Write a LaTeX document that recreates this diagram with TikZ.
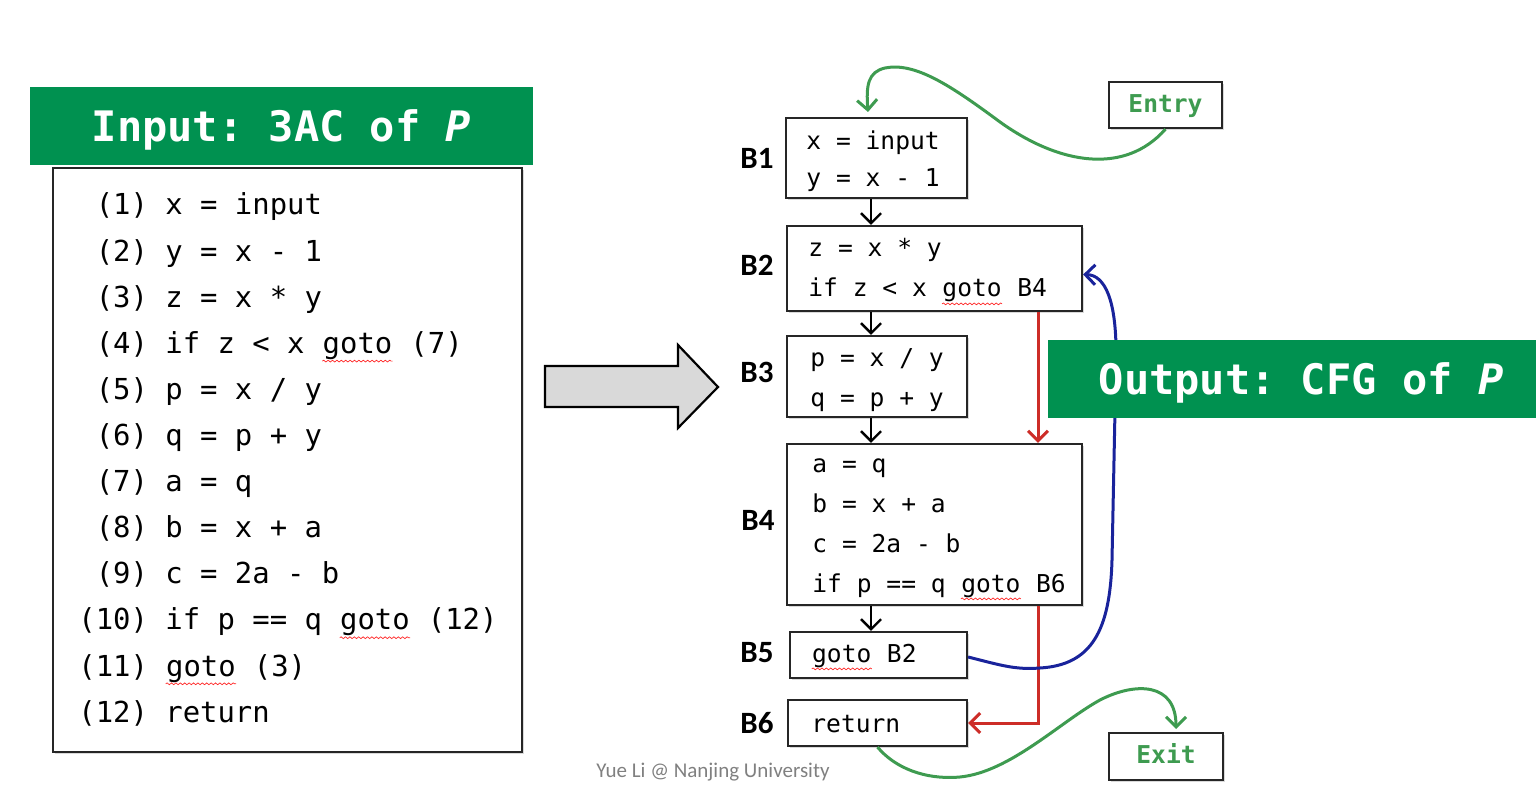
\documentclass[tikz,border=0pt]{standalone}
\usepackage{fontspec}
\setmonofont{DejaVu Sans Mono}
\newfontfamily\lblfont{Carlito}
\usetikzlibrary{arrows.meta,decorations.pathmorphing,shadows}
\definecolor{bannergreen}{RGB}{0,145,80}
\definecolor{lgreen}{RGB}{62,155,80}
\definecolor{cred}{RGB}{205,45,40}
\definecolor{cblue}{RGB}{25,35,155}
\definecolor{arrowgray}{RGB}{217,217,217}
\tikzset{
  squig/.style={draw=red!85, line width=0.35pt, decorate,
    decoration={snake, amplitude=0.45pt, segment length=2.2pt}},
  blk/.style={draw=black!85, line width=1.1pt, fill=white, inner sep=0pt,
    drop shadow={shadow xshift=1.2pt, shadow yshift=-1.2pt, opacity=0.3}},
  banner/.style={fill=bannergreen, inner sep=0pt},
  bannertext/.style={text=white, font=\ttfamily\bfseries\fontsize{21}{25}\selectfont,
    inner sep=0pt, text height=0.73em, text depth=0pt},
  lcode/.style={anchor=base west, inner sep=0pt, font=\ttfamily\fontsize{14.45}{17}\selectfont},
  ccode/.style={anchor=base west, inner sep=0pt, font=\ttfamily\fontsize{12.3}{15}\selectfont},
  blabel/.style={inner sep=0pt, font=\lblfont\bfseries\fontsize{15.5}{18}\selectfont},
  tbox/.style={blk, text=lgreen, font=\ttfamily\bfseries\fontsize{12.3}{15}\selectfont,
    text height=0.73em, text depth=0pt},
  barb/.style={-{Straight Barb[length=5pt,width=10pt]}},
  flow/.style={barb, draw=black, line width=1.2pt},
  jump/.style={barb, draw=cred, line width=1.5pt},
  back/.style={barb, draw=cblue, line width=1.5pt},
  io/.style={barb, draw=lgreen, line width=1.5pt},
}
\newcommand\sq[1]{\tikz[baseline=(w.base)]{\node[inner sep=0pt,anchor=base,draw=none,fill=none,rectangle](w){#1};\draw[squig]([yshift=-0.6pt]w.south west)--([yshift=-0.6pt]w.south east);}}
\begin{document}
\begin{tikzpicture}[x=0.5pt,y=-0.5pt]
\useasboundingbox (0,0) rectangle (1536,807);

% ---------- Input side ----------
\node[banner, minimum width=251.5pt, minimum height=39pt] (inb) at (281.5,126) {};
\node[bannertext] (inbt) at (281.5,134) {Input: 3AC of \textit{P}};
\node[blk, minimum width=234.5pt, minimum height=292pt] (code) at (287.5,460) {};

\node[lcode] (l1) at (78,215)   {\hphantom{0}(1) x = input};
\node[lcode] (l2) at (78,261.1) {\hphantom{0}(2) y = x - 1};
\node[lcode] (l3) at (78,307.2) {\hphantom{0}(3) z = x * y};
\node[lcode] (l4) at (78,353.3) {\hphantom{0}(4) if z < x \sq{goto} (7)};
\node[lcode] (l5) at (78,399.4) {\hphantom{0}(5) p = x / y};
\node[lcode] (l6) at (78,445.5) {\hphantom{0}(6) q = p + y};
\node[lcode] (l7) at (78,491.6) {\hphantom{0}(7) a = q};
\node[lcode] (l8) at (78,537.7) {\hphantom{0}(8) b = x + a};
\node[lcode] (l9) at (78,583.8) {\hphantom{0}(9) c = 2a - b};
\node[lcode] (l10) at (78,629.9) {(10) if p == q \sq{goto} (12)};
\node[lcode] (l11) at (78,676)   {(11) \sq{goto} (3)};
\node[lcode] (l12) at (78,722.1) {(12) return};

% ---------- big arrow ----------
\draw[line width=1.1pt, fill=arrowgray]
  (545,366) -- (678,366) -- (678,345) -- (718,387) -- (678,428) -- (678,407) -- (545,407) -- cycle;

% ---------- CFG blocks ----------
\node[blk, minimum width=90.5pt,  minimum height=40pt]   (b1) at (876.5,158) {};
\node[blk, minimum width=147.5pt, minimum height=42.5pt] (b2) at (934.5,268.5) {};
\node[blk, minimum width=90pt,    minimum height=40.5pt] (b3) at (877,376.5) {};
\node[blk, minimum width=147.5pt, minimum height=80.5pt] (b4) at (934.5,524.5) {};
\node[blk, minimum width=88.5pt,  minimum height=23pt]   (b5) at (878.5,655) {};
\node[blk, minimum width=89.5pt,  minimum height=23pt]   (b6) at (877.5,723) {};
\node[tbox, minimum width=56.5pt, minimum height=23pt]   (entry) at (1165.5,105) {Entry};
\node[tbox, minimum width=57pt,   minimum height=23.5pt] (exit) at (1166,756.5) {Exit};

\node[ccode] (c1a) at (806,150) {x = input};
\node[ccode] (c1b) at (806,187) {y = x - 1};
\node[ccode] (c2a) at (808,257) {z = x * y};
\node[ccode] (c2b) at (808,297) {if z < x \sq{goto} B4};
\node[ccode] (c3a) at (810,367) {p = x / y};
\node[ccode] (c3b) at (810,407) {q = p + y};
\node[ccode] (c4a) at (812,473) {a = q};
\node[ccode] (c4b) at (812,512) {b = x + a};
\node[ccode] (c4c) at (812,552) {c = 2a - b};
\node[ccode] (c4d) at (812,592) {if p == q \sq{goto} B6};
\node[ccode] (c5a) at (811,662) {\sq{goto} B2};
\node[ccode] (c6a) at (811,732) {return};

\node[blabel] (n1) at (757,158) {B1};
\node[blabel] (n2) at (757,265) {B2};
\node[blabel] (n3) at (757,372) {B3};
\node[blabel] (n4) at (758,520) {B4};
\node[blabel] (n5) at (757,653) {B5};
\node[blabel] (n6) at (757,723) {B6};

% ---------- connectors ----------
\coordinate (colx) at (871,0);
\coordinate (redx) at (1038,0);
\coordinate (e1) at (868,112);
\coordinate (x1) at (1176,729);

\draw[flow] (b1.south -| colx) -- (b2.north -| colx);
\draw[flow] (b2.south -| colx) -- (b3.north -| colx);
\draw[flow] (b3.south -| colx) -- (b4.north -| colx);
\draw[flow] (b4.south -| colx) -- (b5.north -| colx);

\draw[jump] (b2.south -| redx) -- (b4.north -| redx);
\draw[jump] (b4.south -| redx) |- (b6.east);

\draw[back] ([yshift=-1pt]b5.east) .. controls (1000,665) and (1015,670) .. (1040,668)
  .. controls (1092,665) and (1110,630) .. (1112,560)
  -- (1116,360) .. controls (1117,300) and (1105,275) .. ([yshift=-3pt]b2.east);

\draw[io] (entry.south) .. controls (1125,175) and (1060,165) .. (1000,122)
  .. controls (950,85) and (915,62) .. (885,68)
  .. controls (868,72) and (866,85) .. (e1);

\draw[io] (b6.south) .. controls (895,768) and (925,780) .. (960,777)
  .. controls (1010,772) and (1060,722) .. (1100,700)
  .. controls (1135,682) and (1176,682) .. (x1);

% ---------- output banner ----------
\node[banner, minimum width=244pt, minimum height=39pt] (outb) at (1292,379) {};
\node[bannertext] (outbt) at (1301,387) {Output: CFG of \textit{P}};

% ---------- footer ----------
\node[inner sep=0pt, text=black!50, font=\lblfont\fontsize{10.5}{12}\selectfont] (foot) at (713,772) {Yue Li @ Nanjing University};
\end{tikzpicture}
\end{document}
